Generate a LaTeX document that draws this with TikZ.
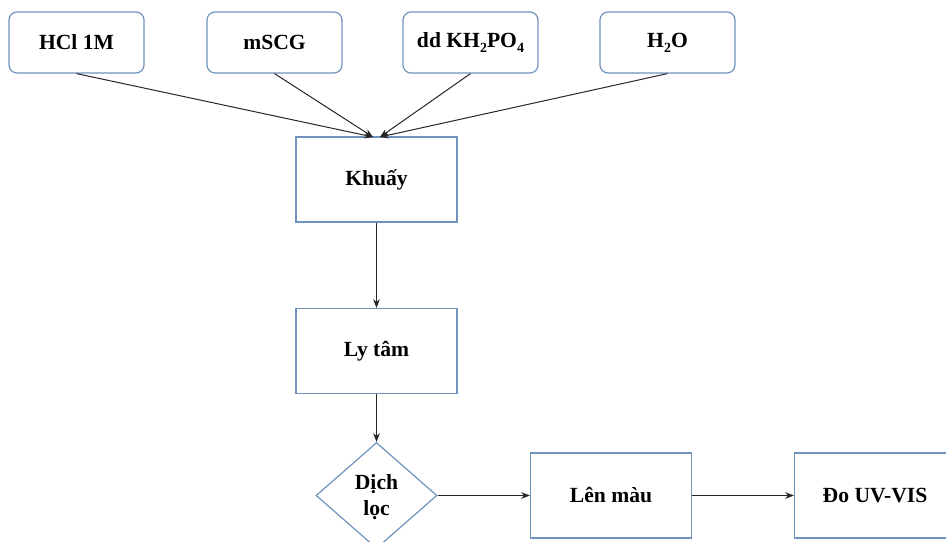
\documentclass[tikz,border=0pt]{standalone}
\usepackage{fontspec}
\setmainfont{Liberation Serif}
\usetikzlibrary{shapes.geometric,arrows.meta}
\definecolor{bordc}{RGB}{112,146,190}
\newcommand\mysub[1]{\raisebox{-0.5ex}{\fontsize{10.5}{10}\selectfont #1}}
\begin{document}
\begin{tikzpicture}[x=0.75pt,y=-0.75pt,
  txt/.style={font=\fontsize{16.2}{20}\selectfont\bfseries, text=black},
  topbox/.style={txt, draw=bordc, line width=0.9pt, rounded corners=6pt, minimum width=101.25pt, minimum height=45.75pt, inner sep=0pt},
  stepbox/.style={txt, draw=bordc, line width=0.9pt, minimum width=120.75pt, minimum height=63.75pt, inner sep=0pt},
  decbox/.style={draw=bordc, line width=0.9pt, shape=diamond, minimum width=90.75pt, minimum height=79.5pt, inner sep=0pt},
  conn/.style={draw=black!85, line width=0.75pt, -{Stealth[length=6.5pt,width=5pt]}}]
\useasboundingbox (0,0) rectangle (946,542);
\clip (0,0) rectangle (946,542);
\node[topbox] (hcl) at (76.5,42.5) {HCl 1M};
\node[topbox] (mscg) at (274.5,42.5) {mSCG};
\node[topbox] (kh) at (470.5,42.5) {dd KH\mysub{2}PO\mysub{4}};
\node[topbox] (water) at (667.5,42.5) {H\mysub{2}O};
\node[stepbox] (khuay) at (376.5,179.5) {Khuấy};
\node[stepbox] (lytam) at (376.5,351) {Ly tâm};
\node[decbox] (dich) at (376.5,495.5) {};
\node[txt, align=center] (dichtxt) at (376.5,497) {Dịch\\lọc};
\node[stepbox] (len) at (611,495.5) {Lên màu};
\node[stepbox] (uv) at (875,495.5) {Đo UV-VIS};
\coordinate (kl) at (373,137);
\coordinate (kr) at (380,137);
\draw[conn] (hcl.south) -- (kl);
\draw[conn] (mscg.south) -- (kl);
\draw[conn] (kh.south) -- (kr);
\draw[conn] (water.south) -- (kr);
\draw[conn] (khuay.south) -- (lytam.north);
\draw[conn] (lytam.south) -- (dich.north);
\draw[conn] (dich.east) -- (len.west);
\draw[conn] (len.east) -- (uv.west);
\end{tikzpicture}
\end{document}
